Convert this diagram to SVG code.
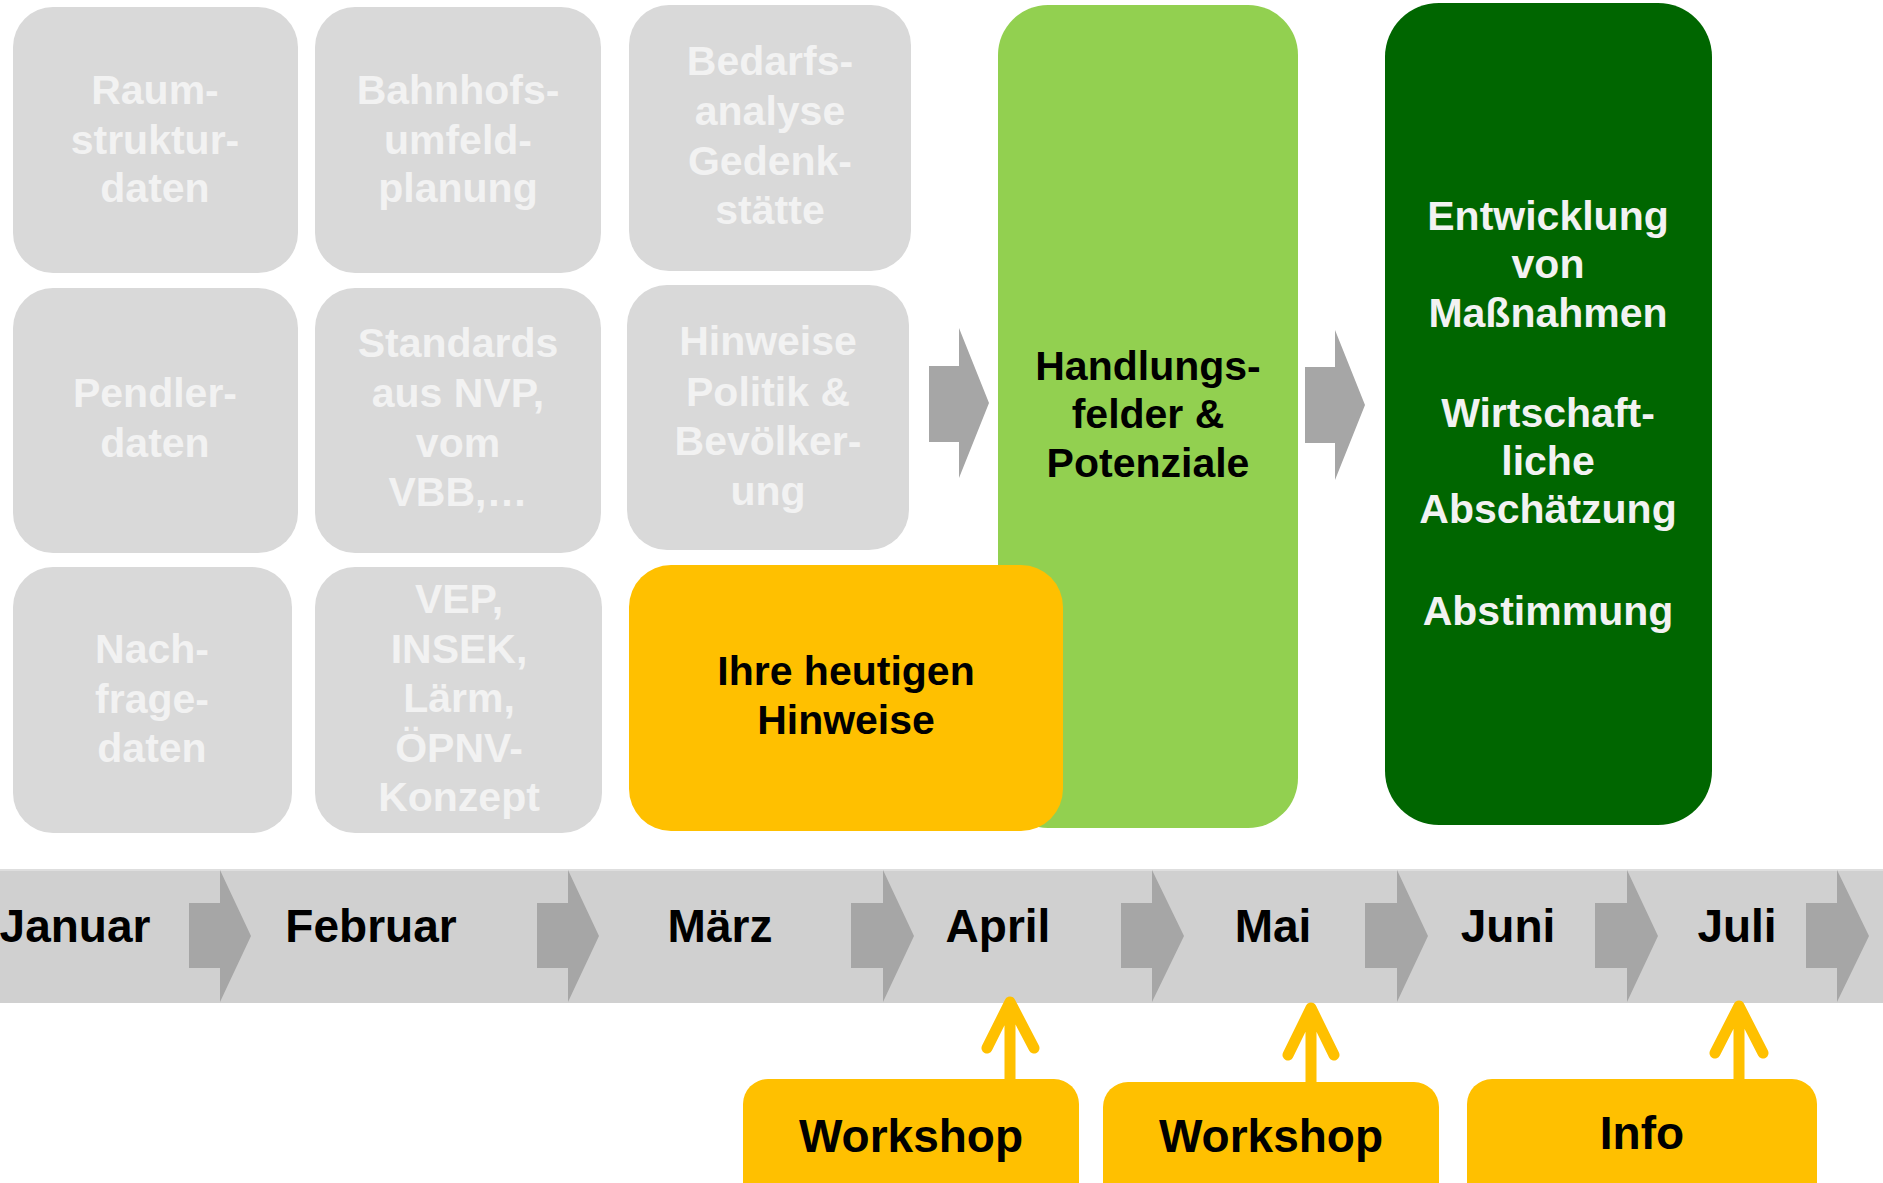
<svg xmlns="http://www.w3.org/2000/svg" width="1883" height="1183" viewBox="0 0 1883 1183">
<style>
.t{font-family:"Liberation Sans",Arial,sans-serif;font-weight:bold;text-anchor:middle}
.g{fill:#d9d9d9}
.gt{fill:#f2f2f2;font-size:41px}
.bk{fill:#000;font-size:41px}
.mt{fill:#000;font-size:46px}
.wt{fill:#000;font-size:46px}
.dt{fill:#f2f2f2;font-size:41px}
.ar{fill:#a6a6a6}
.ya{fill:none;stroke:#ffc000;stroke-width:11;stroke-linecap:round;stroke-linejoin:round}
.yb{fill:#ffc000}
</style>
<rect width="1883" height="1183" fill="#ffffff"/>

<g id="timeline">
<rect x="0" y="870" width="1883" height="133" fill="#d0d0d0"/>
<rect x="0" y="869" width="1883" height="2" fill="#dedede"/>
</g>

<g id="connectors">
<polygon class="ar" points="929,366 959,366 959,328 989,403 959,478 959,442 929,442"/>
<polygon class="ar" points="1305,367 1335,367 1335,330 1365,405 1335,480 1335,443 1305,443"/>
<polygon class="ar" points="189,903 220,903 220,870 251,936 220,1002 220,968 189,968"/>
<polygon class="ar" points="537,903 568,903 568,870 599,936 568,1002 568,968 537,968"/>
<polygon class="ar" points="851,903 883,903 883,870 914,936 883,1002 883,968 851,968"/>
<polygon class="ar" points="1121,903 1152,903 1152,870 1184,936 1152,1002 1152,968 1121,968"/>
<polygon class="ar" points="1365,903 1397,903 1397,870 1428,936 1397,1002 1397,968 1365,968"/>
<polygon class="ar" points="1595,903 1627,903 1627,870 1658,936 1627,1002 1627,968 1595,968"/>
<polygon class="ar" points="1806,903 1837,903 1837,870 1869,936 1837,1002 1837,968 1806,968"/>
<path class="ya" d="M1010,1082 V1004 M987,1048 L1010,1002 L1034,1048"/>
<path class="ya" d="M1311,1084 V1010 M1288,1055 L1311,1008 L1334,1055"/>
<path class="ya" d="M1739,1082 V1008 M1715,1053 L1739,1006 L1763,1053"/>
</g>

<g id="months">
<text class="t mt" x="75" y="942">Januar</text>
<text class="t mt" x="371" y="942">Februar</text>
<text class="t mt" x="720" y="942">März</text>
<text class="t mt" x="998" y="942">April</text>
<text class="t mt" x="1273" y="942">Mai</text>
<text class="t mt" x="1508" y="942">Juni</text>
<text class="t mt" x="1737" y="942">Juli</text>
</g>

<g id="raumstruktur">
<rect class="g" x="13" y="7" width="285" height="266" rx="40"/>
<text class="t gt" x="155" y="104">Raum-</text>
<text class="t gt" x="155" y="154">struktur-</text>
<text class="t gt" x="155" y="202">daten</text>
</g>
<g id="bahnhof">
<rect class="g" x="315" y="7" width="286" height="266" rx="40"/>
<text class="t gt" x="458" y="104">Bahnhofs-</text>
<text class="t gt" x="458" y="154">umfeld-</text>
<text class="t gt" x="458" y="202">planung</text>
</g>
<g id="bedarf">
<rect class="g" x="629" y="5" width="282" height="266" rx="40"/>
<text class="t gt" x="770" y="75">Bedarfs-</text>
<text class="t gt" x="770" y="125">analyse</text>
<text class="t gt" x="770" y="175">Gedenk-</text>
<text class="t gt" x="770" y="224">stätte</text>
</g>
<g id="pendler">
<rect class="g" x="13" y="288" width="285" height="265" rx="40"/>
<text class="t gt" x="155" y="407">Pendler-</text>
<text class="t gt" x="155" y="457">daten</text>
</g>
<g id="standards">
<rect class="g" x="315" y="288" width="286" height="265" rx="40"/>
<text class="t gt" x="458" y="357">Standards</text>
<text class="t gt" x="458" y="407">aus NVP,</text>
<text class="t gt" x="458" y="457">vom</text>
<text class="t gt" x="458" y="506">VBB,…</text>
</g>
<g id="hinweise-politik">
<rect class="g" x="627" y="285" width="282" height="265" rx="40"/>
<text class="t gt" x="768" y="355">Hinweise</text>
<text class="t gt" x="768" y="406">Politik &amp;</text>
<text class="t gt" x="768" y="455">Bevölker-</text>
<text class="t gt" x="768" y="505">ung</text>
</g>
<g id="nachfrage">
<rect class="g" x="13" y="567" width="279" height="266" rx="40"/>
<text class="t gt" x="152" y="663">Nach-</text>
<text class="t gt" x="152" y="713">frage-</text>
<text class="t gt" x="152" y="762">daten</text>
</g>
<g id="vep">
<rect class="g" x="315" y="567" width="287" height="266" rx="40"/>
<text class="t gt" x="459" y="613">VEP,</text>
<text class="t gt" x="459" y="663">INSEK,</text>
<text class="t gt" x="459" y="712">Lärm,</text>
<text class="t gt" x="459" y="762">ÖPNV-</text>
<text class="t gt" x="459" y="811">Konzept</text>
</g>

<g id="handlungsfelder">
<rect x="998" y="5" width="300" height="823" rx="50" fill="#92d050"/>
<text class="t bk" x="1148" y="380">Handlungs-</text>
<text class="t bk" x="1148" y="428">felder &amp;</text>
<text class="t bk" x="1148" y="477">Potenziale</text>
</g>

<g id="ihre-hinweise">
<rect class="yb" x="629" y="565" width="434" height="266" rx="42"/>
<text class="t bk" x="846" y="685">Ihre heutigen</text>
<text class="t bk" x="846" y="734">Hinweise</text>
</g>

<g id="massnahmen">
<rect x="1385" y="3" width="327" height="822" rx="54" fill="#006600"/>
<text class="t dt" x="1548" y="230">Entwicklung</text>
<text class="t dt" x="1548" y="278">von</text>
<text class="t dt" x="1548" y="327">Maßnahmen</text>
<text class="t dt" x="1548" y="427">Wirtschaft-</text>
<text class="t dt" x="1548" y="475">liche</text>
<text class="t dt" x="1548" y="523">Abschätzung</text>
<text class="t dt" x="1548" y="625">Abstimmung</text>
</g>

<g id="workshop-april">
<rect class="yb" x="743" y="1079" width="336" height="150" rx="25"/>
<text class="t wt" x="911" y="1152">Workshop</text>
</g>
<g id="workshop-mai">
<rect class="yb" x="1103" y="1082" width="336" height="150" rx="25"/>
<text class="t wt" x="1271" y="1152">Workshop</text>
</g>
<g id="info-juli">
<rect class="yb" x="1467" y="1079" width="350" height="150" rx="25"/>
<text class="t wt" x="1642" y="1149">Info</text>
</g>
</svg>
